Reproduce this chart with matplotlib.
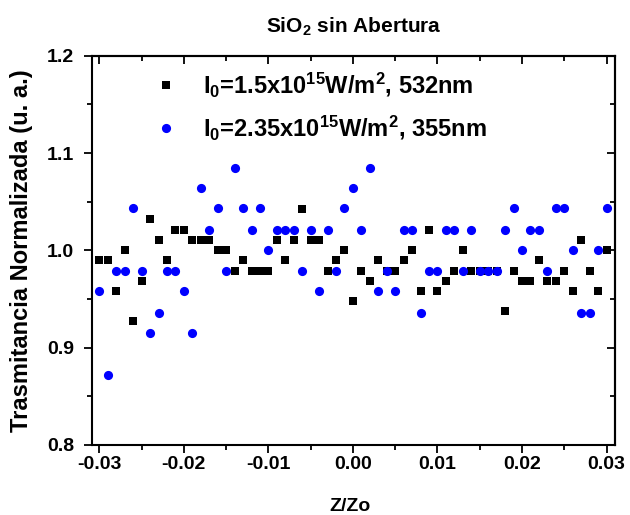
import numpy as np
import matplotlib
matplotlib.use('Agg')
import matplotlib.pyplot as plt
from matplotlib.ticker import MultipleLocator, FormatStrFormatter

plt.rcParams['font.family'] = ['Liberation Sans', 'DejaVu Sans']
plt.rcParams['font.weight'] = 'bold'
plt.rcParams['mathtext.fontset'] = 'custom'
plt.rcParams['mathtext.rm'] = 'Liberation Sans:bold'
plt.rcParams['mathtext.bf'] = 'Liberation Sans:bold'
plt.rcParams['mathtext.default'] = 'bf'
plt.rcParams['axes.unicode_minus'] = False

# posiciones Z/Zo (paso 0.001)
z = [-0.030, -0.029, -0.028, -0.027, -0.026, -0.025, -0.024, -0.023, -0.022, -0.021,
     -0.020, -0.019, -0.018, -0.017, -0.016, -0.015, -0.014, -0.013, -0.012, -0.011,
     -0.010, -0.009, -0.008, -0.007, -0.006, -0.005, -0.004, -0.003, -0.002, -0.001,
     0.000, 0.001, 0.002, 0.003, 0.004, 0.005, 0.006, 0.007, 0.008, 0.009,
     0.010, 0.011, 0.012, 0.013, 0.014, 0.015, 0.016, 0.017, 0.018, 0.019,
     0.020, 0.021, 0.022, 0.023, 0.024, 0.025, 0.026, 0.027, 0.028, 0.029, 0.030]

# 532nm
t_532 = [0.990, 0.990, 0.958, 1.000, 0.927, 0.969, 1.032, 1.011, 0.990, 1.021,
         1.021, 1.011, 1.011, 1.011, 1.000, 1.000, 0.979, 0.990, 0.979, 0.979,
         0.979, 1.011, 0.990, 1.011, 1.042, 1.011, 1.011, 0.979, 0.990, 1.000,
         0.948, 0.979, 0.969, 0.990, 0.979, 0.979, 0.990, 1.000, 0.958, 1.021,
         0.958, 0.969, 0.979, 1.000, 0.979, 0.979, 0.979, 0.979, 0.938, 0.979,
         0.969, 0.969, 0.990, 0.969, 0.969, 0.979, 0.958, 1.011, 0.979, 0.958, 1.000]

# 355nm
t_355 = [0.958, 0.872, 0.979, 0.979, 1.043, 0.979, 0.915, 0.936, 0.979, 0.979,
         0.958, 0.915, 1.064, 1.021, 1.043, 0.979, 1.085, 1.043, 1.021, 1.043,
         1.000, 1.021, 1.021, 1.021, 0.979, 1.021, 0.958, 1.021, 0.979, 1.043,
         1.064, 1.021, 1.085, 0.958, 0.979, 0.958, 1.021, 1.021, 0.936, 0.979,
         0.979, 1.021, 1.021, 0.979, 1.021, 0.979, 0.979, 0.979, 1.021, 1.043,
         1.000, 1.021, 1.021, 0.979, 1.043, 1.043, 1.000, 0.936, 0.936, 1.000, 1.043]

label_532 = r'I$_0$=1.5x10$^{15}$W/m$^2$, 532nm'
label_355 = r'I$_0$=2.35x10$^{15}$W/m$^2$, 355nm'

fig = plt.figure(figsize=(6.3, 5.15), dpi=100)
ax = fig.add_axes([0.1456, 0.136, 0.8306, 0.7558])

ax.plot(z, t_532, 's', color='black', ms=6, mew=0, label=label_532)
ax.plot(z, t_355, 'o', color='blue', ms=6.6, mew=0, label=label_355)

ax.set_xlim(-0.0309, 0.031)
ax.set_ylim(0.8, 1.2)

ax.xaxis.set_major_locator(MultipleLocator(0.01))
ax.xaxis.set_minor_locator(MultipleLocator(0.005))
ax.yaxis.set_major_locator(MultipleLocator(0.1))
ax.yaxis.set_minor_locator(MultipleLocator(0.05))
ax.xaxis.set_major_formatter(FormatStrFormatter('%.2f'))
ax.yaxis.set_major_formatter(FormatStrFormatter('%.1f'))

for s in ax.spines.values():
    s.set_linewidth(1.5)

# ticks abajo/izquierda hacia fuera
ax.tick_params(which='both', width=1.3, labelsize=14, top=False, right=False)
ax.tick_params(which='major', length=5.8)
ax.tick_params(which='minor', length=3.3)
ax.tick_params(axis='x', which='both', direction='out', pad=2.5)
ax.tick_params(axis='y', which='both', direction='out', pad=7)

# ticks arriba/derecha hacia dentro
sec_top = ax.secondary_xaxis('top')
sec_top.xaxis.set_major_locator(MultipleLocator(0.01))
sec_top.xaxis.set_minor_locator(MultipleLocator(0.005))
sec_top.tick_params(which='both', direction='in', width=1.3, labeltop=False)
sec_top.tick_params(which='major', length=5.8)
sec_top.tick_params(which='minor', length=3.3)
sec_top.spines['top'].set_linewidth(1.5)
sec_right = ax.secondary_yaxis('right')
sec_right.yaxis.set_major_locator(MultipleLocator(0.1))
sec_right.yaxis.set_minor_locator(MultipleLocator(0.05))
sec_right.tick_params(which='both', direction='in', width=1.3, labelright=False)
sec_right.tick_params(which='major', length=5.8)
sec_right.tick_params(which='minor', length=3.3)
sec_right.spines['right'].set_linewidth(1.5)

ax.set_xlabel('Z/Zo', fontsize=14, fontweight='bold')
ax.xaxis.set_label_coords(0.494, -0.137)
ax.xaxis.label.set_va('top')
ax.set_ylabel('Trasmitancia Normalizada (u. a.)', fontsize=17, fontweight='bold')
ax.yaxis.set_label_coords(-0.112, 0.5)

fig.text(0.562, 1 - 32.5 / 515, r'SiO$_2$ sin Abertura', ha='center', va='baseline',
         fontsize=15, fontweight='bold')

ax.legend(loc='upper left', bbox_to_anchor=(0.1194, 0.963), frameon=False,
          prop={'size': 17, 'weight': 'bold'}, borderpad=0, borderaxespad=0,
          handlelength=1.0, handletextpad=1.07, labelspacing=0.6, numpoints=1)

fig.savefig('out.png', dpi=100)
